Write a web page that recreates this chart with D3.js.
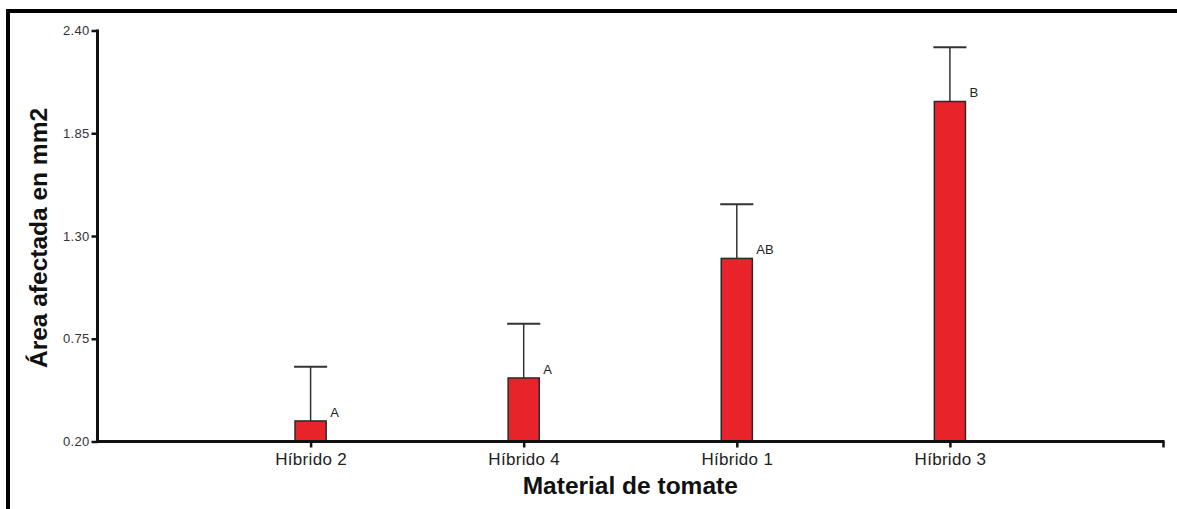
<!DOCTYPE html>
<html>
<head>
<meta charset="utf-8">
<script src="https://cdn.jsdelivr.net/npm/d3@7"></script>
<style>
  html, body { margin: 0; padding: 0; background: #fff; }
  svg { display: block; }
</style>
</head>
<body>
<svg id="chart" width="1177" height="509"></svg>
<script>
// Lesion area per tomato hybrid: mean with standard error and Tukey grouping letters
const categories = ["Híbrido 2", "Híbrido 4", "Híbrido 1", "Híbrido 3"];
const means = [0.31, 0.54, 1.18, 2.02];
const errors = [0.29, 0.29, 0.29, 0.29];
const groups = ["A", "A", "AB", "B"];
const yTicks = [0.20, 0.75, 1.30, 1.85, 2.40];

const svg = d3.select("#chart");
const W = 1177, H = 509;

svg.append("rect").attr("width", W).attr("height", H).attr("fill", "#fff");

// figure frame (top and left edges)
svg.append("line").attr("x1", 6).attr("x2", W).attr("y1", 11).attr("y2", 11)
  .attr("stroke", "#000").attr("stroke-width", 4);
svg.append("line").attr("x1", 8).attr("x2", 8).attr("y1", 9).attr("y2", H)
  .attr("stroke", "#000").attr("stroke-width", 4);

// categories sit at positions 1..n on a continuous axis that runs from 0 to n+1
const x = d3.scaleLinear().domain([0, categories.length + 1]).range([97.5, 1163]);
const y = d3.scaleLinear().domain([0.20, 2.40]).range([441.5, 30.5]);
const halfBar = 0.073;

const font = "'Liberation Sans', Arial, Helvetica, sans-serif";

// bars
const g = svg.append("g");
g.selectAll("rect.bar").data(means).join("rect")
  .attr("class", "bar")
  .attr("x", (d, i) => x(i + 1 - halfBar))
  .attr("width", (d, i) => x(i + 1 + halfBar) - x(i + 1 - halfBar))
  .attr("y", d => y(d))
  .attr("height", d => y(0.20) - y(d))
  .attr("fill", "#e8232a")
  .attr("stroke", "#2a2a2a")
  .attr("stroke-width", 1.5);

// upper error bars
g.selectAll("line.err").data(means).join("line")
  .attr("class", "err")
  .attr("x1", (d, i) => x(i + 1)).attr("x2", (d, i) => x(i + 1))
  .attr("y1", d => y(d)).attr("y2", (d, i) => y(d + errors[i]))
  .attr("stroke", "#333").attr("stroke-width", 1.5);
g.selectAll("line.cap").data(means).join("line")
  .attr("class", "cap")
  .attr("x1", (d, i) => x(i + 1 - halfBar) - 1).attr("x2", (d, i) => x(i + 1 + halfBar) + 1)
  .attr("y1", (d, i) => y(d + errors[i])).attr("y2", (d, i) => y(d + errors[i]))
  .attr("stroke", "#333").attr("stroke-width", 2);

// grouping letters
g.selectAll("text.grp").data(means).join("text")
  .attr("class", "grp")
  .attr("x", (d, i) => x(i + 1 + halfBar) + 4)
  .attr("y", d => y(d) - 4)
  .attr("font-family", font).attr("font-size", 13)
  .attr("fill", "#222")
  .text((d, i) => groups[i]);

// y axis
const yAxis = d3.axisLeft(y).tickValues(yTicks).tickFormat(d3.format(".2f"))
  .tickSize(6).tickPadding(2);
const ya = svg.append("g").attr("transform", `translate(${x(0)},0)`).call(yAxis);
ya.select(".domain").attr("stroke", "#111").attr("stroke-width", 3)
  .attr("d", `M0,${y(2.40) - 1}V${y(0.20) + 1.5}`);
ya.selectAll(".tick line").attr("stroke", "#111").attr("stroke-width", 2.5);
ya.selectAll(".tick text").attr("font-family", font).attr("font-size", 13)
  .attr("letter-spacing", "0.3px").attr("fill", "#333");

// x axis
const xAxis = d3.axisBottom(x)
  .tickValues(d3.range(1, categories.length + 2))
  .tickFormat(d => categories[d - 1] || "")
  .tickSize(6).tickPadding(5);
const xa = svg.append("g").attr("transform", `translate(0,${y(0.20)})`).call(xAxis);
xa.select(".domain").attr("stroke", "#111").attr("stroke-width", 3)
  .attr("d", `M${x(0) - 1.5},0H${x(categories.length + 1) + 1.5}`);
xa.selectAll(".tick line").attr("stroke", "#111").attr("stroke-width", 2.5);
xa.selectAll(".tick text").attr("font-family", font).attr("font-size", 17)
  .attr("letter-spacing", "0.3px").attr("fill", "#222");

// axis titles
svg.append("text")
  .attr("transform", `translate(47,${(y(0.20) + y(2.40)) / 2 + 2}) rotate(-90)`)
  .attr("text-anchor", "middle")
  .attr("font-family", font).attr("font-weight", "bold").attr("font-size", 24.5)
  .attr("fill", "#111")
  .text("Área afectada en mm2");

svg.append("text")
  .attr("x", (x(0) + x(categories.length + 1)) / 2)
  .attr("y", 494)
  .attr("text-anchor", "middle")
  .attr("font-family", font).attr("font-weight", "bold").attr("font-size", 24.5)
  .attr("fill", "#111")
  .text("Material de tomate");
</script>
</body>
</html>
